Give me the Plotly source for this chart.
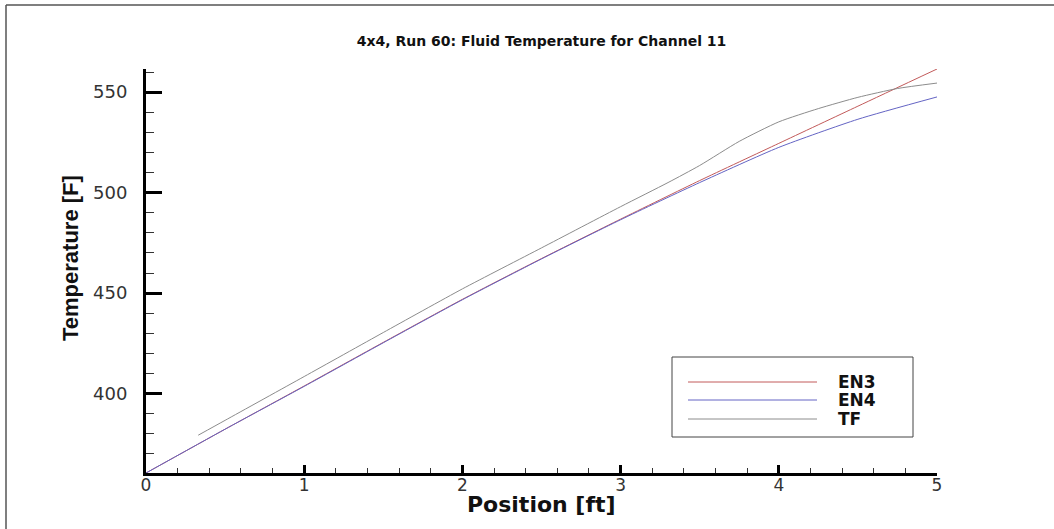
import plotly.graph_objects as go

# ---------------- data ----------------
x_en = [0.0, 0.5, 1.0, 1.5, 2.0, 2.5, 3.0, 3.5, 4.0, 4.5, 5.0]
en3 = [360.5, 382.3, 403.8, 425.5, 446.9, 467.2, 486.8, 506.0, 524.5, 543.0, 561.5]
en4 = [360.5, 382.3, 403.6, 425.3, 446.7, 467.0, 486.5, 505.0, 522.5, 536.5, 547.6]

x_tf = [0.33, 0.5, 1.0, 1.5, 2.0, 2.5, 3.0, 3.3, 3.5, 3.75, 4.0, 4.25, 4.5, 4.75, 5.0]
tf = [379.3, 386.7, 408.5, 430.4, 452.1, 472.5, 493.0, 505.0, 513.5, 525.5, 535.2, 541.8, 547.4, 551.8, 554.5]

series_names = ["EN3", "EN4", "TF"]
series_colors = ["#c25a5a", "#6464c4", "#8c8c8c"]

x_ticks = [0, 1, 2, 3, 4, 5]
y_ticks = [400, 450, 500, 550]

TITLE = "4x4, Run 60: Fluid Temperature for Channel 11"
X_TITLE = "Position [ft]"
Y_TITLE = "Temperature [F]"

# ---------------- figure ----------------
W, H = 1054, 529
L, R, T, B = 146, 117, 69, 56
pw, ph = W - L - R, H - T - B


def px2paper(px, py):
    return (px - L) / pw, (H - B - py) / ph


fig = go.Figure()
for name, xs, ys, col in zip(series_names, [x_en, x_en, x_tf], [en3, en4, tf], series_colors):
    fig.add_trace(go.Scatter(x=xs, y=ys, mode="lines", name=name,
                             line=dict(color=col, width=1, shape="spline", smoothing=0.6),
                             showlegend=False))

fig.update_layout(
    width=W, height=H,
    margin=dict(l=L, r=R, t=T, b=B, autoexpand=False),
    paper_bgcolor="white", plot_bgcolor="white",
    title=dict(text=TITLE, x=(L + pw / 2) / W, xanchor="center",
               y=1 - 41 / H, yanchor="middle",
               font=dict(family="DejaVu Sans", size=14, color="#111", weight="bold")),
    font=dict(family="DejaVu Sans", color="#333"),
)

fig.update_xaxes(
    range=[0, 5], tickvals=x_ticks, ticktext=[str(v) for v in x_ticks],
    showgrid=False, zeroline=False,
    showline=True, linecolor="black", linewidth=3,
    ticks="inside", ticklen=8, tickwidth=3, tickcolor="black",
    minor=dict(ticks="inside", ticklen=5, tickwidth=1, tickcolor="#333", dtick=0.2),
    tickfont=dict(family="DejaVu Sans", size=17, color="#333"),
    ticklabelstandoff=-5,
    automargin=False,
)
fig.update_yaxes(
    range=[360.5, 561.5], tickvals=y_ticks, ticktext=[str(v) for v in y_ticks],
    showgrid=False, zeroline=False,
    showline=True, linecolor="black", linewidth=3,
    ticks="inside", ticklen=16, tickwidth=3, tickcolor="black",
    minor=dict(ticks="inside", ticklen=8, tickwidth=1, tickcolor="#333", dtick=10),
    tickfont=dict(family="DejaVu Sans", size=18, color="#333"),
    ticklabelstandoff=12,
    automargin=False,
)

# outer frame lines (top and left) of the original picture
x0p, y0p = px2paper(6, 5)
shapes = [
    dict(type="line", xref="paper", yref="paper", x0=x0p, x1=px2paper(W, 0)[0], y0=y0p, y1=y0p,
         line=dict(color="#555", width=1.5)),
    dict(type="line", xref="paper", yref="paper", x0=x0p, x1=x0p, y0=y0p, y1=px2paper(0, H)[1],
         line=dict(color="#555", width=1.5)),
]

annotations = []
# axis titles
ax, ay = px2paper(541, 504)
annotations.append(dict(xref="paper", yref="paper", x=ax, y=ay, text=X_TITLE, showarrow=False,
                        xanchor="center", yanchor="middle",
                        font=dict(family="DejaVu Sans", size=22, color="#111", weight="bold")))
ax, ay = px2paper(70, 258)
annotations.append(dict(xref="paper", yref="paper", x=ax, y=ay, text=Y_TITLE, showarrow=False,
                        textangle=-90, xanchor="center", yanchor="middle",
                        font=dict(family="Liberation Sans", size=22, color="#111", weight="bold")))

# legend box drawn like the original (long sample lines)
bx0, by0 = px2paper(672, 357)
bx1, by1 = px2paper(913, 437)
shapes.append(dict(type="rect", xref="paper", yref="paper", x0=bx0, x1=bx1, y0=by1, y1=by0,
                   line=dict(color="#444", width=1), fillcolor="white", layer="above"))
for i, (name, col) in enumerate(zip(series_names, series_colors)):
    rowy = [382, 400, 419][i]
    lx0, ly = px2paper(688, rowy)
    lx1, _ = px2paper(817, rowy)
    shapes.append(dict(type="line", xref="paper", yref="paper", x0=lx0, x1=lx1, y0=ly, y1=ly,
                       line=dict(color=col, width=1), layer="above"))
    tx, _ = px2paper(836, rowy)
    annotations.append(dict(xref="paper", yref="paper", x=tx, y=ly, text=name, showarrow=False,
                            xanchor="left", yanchor="middle",
                            font=dict(family="DejaVu Sans", size=17, color="#111", weight="bold")))

fig.update_layout(shapes=shapes, annotations=annotations)

fig.write_html("out.html", config={"displayModeBar": False},
               post_script="document.body.style.margin='0';document.body.style.overflow='hidden';")
